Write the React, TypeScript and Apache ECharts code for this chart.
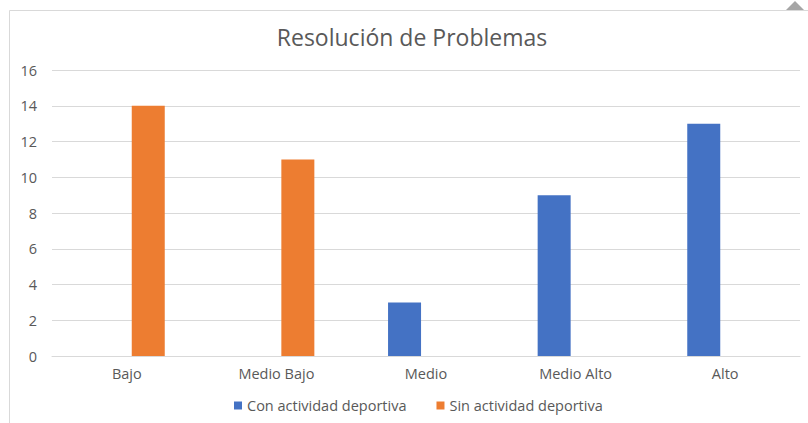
import React, { useEffect, useRef } from "react";
import * as echarts from "echarts";

const categories = ["Bajo", "Medio Bajo", "Medio", "Medio Alto", "Alto"];
const conActividad = [0, 0, 3, 9, 13];
const sinActividad = [14, 11, 0, 0, 0];
const seriesNames = ["Con actividad deportiva", "Sin actividad deportiva"];
const titleText = "Resolución de Problemas";

const FONT = "'Open Sans', sans-serif";
const TEXT_COLOR = "#595959";
const GRID_COLOR = "#d9d9d9";
const LABEL_SIZE = 14.5;

export default function App() {
  const ref = useRef<HTMLDivElement>(null);

  useEffect(() => {
    if (!ref.current) return;
    const chart = echarts.init(ref.current, null, { renderer: "svg" });
    chart.setOption({
      animation: false,
      backgroundColor: "#ffffff",
      textStyle: { fontFamily: FONT },
      title: {
        text: titleText,
        left: 407,
        textAlign: "center",
        top: 20,
        textStyle: {
          fontFamily: FONT,
          fontSize: 23,
          fontWeight: "normal",
          color: TEXT_COLOR,
        },
      },
      graphic: [
        {
          type: "rect",
          shape: { x: 9.5, y: 10.5, width: 900, height: 500 },
          style: { fill: "none", stroke: "#d9d9d9", lineWidth: 1 },
          silent: true,
          z: -1,
        },
        {
          type: "polygon",
          shape: { points: [[786, 10], [795, 1], [804, 10]] },
          style: { fill: "#a6a6a6" },
          silent: true,
        },
      ],
      legend: {
        bottom: 5,
        left: 229,
        itemWidth: 8,
        itemHeight: 8,
        itemGap: 30,
        icon: "rect",
        textStyle: { fontFamily: FONT, fontSize: LABEL_SIZE, color: TEXT_COLOR },
        data: seriesNames,
      },
      grid: { left: 52, right: 8, top: 70, bottom: 67, containLabel: false },
      xAxis: {
        type: "category",
        data: categories,
        axisLine: { lineStyle: { color: GRID_COLOR } },
        axisTick: { show: false },
        axisLabel: { fontFamily: FONT, fontSize: LABEL_SIZE, color: TEXT_COLOR, margin: 10 },
      },
      yAxis: {
        type: "value",
        min: 0,
        max: 16,
        interval: 2,
        axisLine: { show: false },
        axisTick: { show: false },
        splitLine: { lineStyle: { color: GRID_COLOR } },
        axisLabel: { fontFamily: FONT, fontSize: LABEL_SIZE, color: TEXT_COLOR, margin: 15 },
      },
      series: [
        {
          name: seriesNames[0],
          type: "bar",
          data: conActividad,
          barWidth: 33,
          barGap: "30%",
          itemStyle: { color: "#4472c4" },
        },
        {
          name: seriesNames[1],
          type: "bar",
          data: sinActividad,
          barWidth: 33,
          barGap: "30%",
          itemStyle: { color: "#ed7d31" },
        },
      ],
    });
    return () => chart.dispose();
  }, []);

  return (
    <div
      ref={ref}
      style={{ position: "fixed", left: 0, top: 0, width: 808, height: 423 }}
    />
  );
}
